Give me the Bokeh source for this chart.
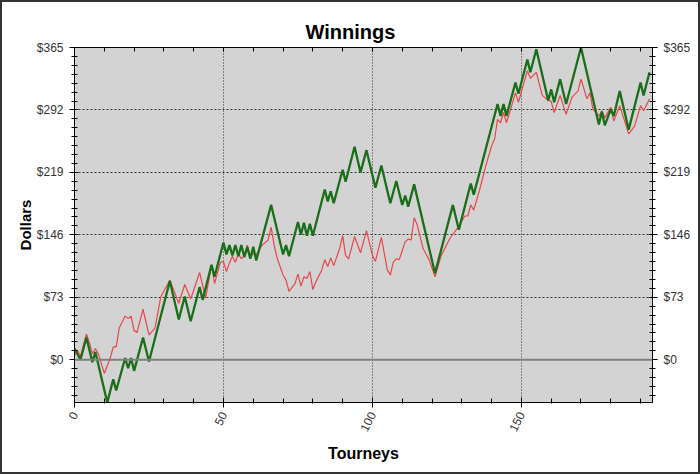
from bokeh.plotting import figure
from bokeh.models import (LinearAxis, FixedTicker, PrintfTickFormatter, Span,
                          Range1d, Grid, CustomJSTickFormatter)
from bokeh.embed import file_html
from bokeh.resources import INLINE

# ---- data (tourney index, cumulative dollars) ----
green_x = [0, 2, 4, 6, 7, 11, 13, 14, 17, 18, 19, 20, 23, 25, 32, 35, 37, 39, 42, 43,
           46, 47, 50, 51, 52, 53, 54, 55, 56, 57, 58, 59, 60, 61, 66, 70, 71, 72, 75, 76,
           77, 78, 79, 80, 84, 85, 86, 87, 90, 91, 94, 96, 98, 101, 103, 106, 108, 110, 111, 112,
           114, 121, 127, 129, 133, 134, 142, 143, 144, 145, 148, 149, 152, 153, 155, 159, 160, 161, 163, 165,
           170, 176, 177, 178, 180, 181, 183, 186, 190, 191, 193]
green_y = [13, 0, 26, -3, 9, -50, -23, -36, 2, -10, 2, -13, 26, -2, 92, 47, 74, 45, 85, 70,
           111, 97, 137, 123, 134, 122, 134, 121, 134, 120, 132, 118, 132, 116, 181, 123, 134, 121, 161, 146,
           160, 145, 159, 145, 199, 185, 197, 183, 222, 208, 249, 219, 245, 201, 227, 183, 209, 181, 192, 179,
           205, 101, 181, 152, 206, 193, 299, 285, 299, 285, 324, 311, 351, 336, 363, 303, 316, 301, 328, 299,
           365, 275, 290, 274, 293, 285, 314, 269, 324, 309, 336]

red_x = [0, 1, 2, 4, 5, 6, 7, 8, 10, 12, 13, 14, 15, 17, 18, 19, 20, 21, 23, 25,
         27, 29, 32, 35, 37, 39, 42, 44, 46, 47, 49, 50, 51, 52, 53, 54, 55, 56, 57, 58,
         59, 60, 61, 63, 65, 66, 67, 68, 70, 71, 72, 74, 75, 76, 77, 78, 79, 80, 81, 83,
         84, 85, 86, 87, 89, 90, 91, 92, 94, 96, 98, 100, 101, 103, 105, 106, 107, 108, 109, 111,
         112, 113, 114, 115, 117, 119, 121, 123, 126, 129, 131, 132, 133, 134, 136, 138, 140, 141, 142, 143,
         144, 145, 148, 149, 152, 153, 155, 157, 159, 160, 161, 163, 165, 167, 169, 170, 172, 173, 174, 176,
         177, 178, 180, 181, 183, 186, 188, 190, 191, 193]
red_y = [5, 11, 4, 30, 20, 7, 13, 7, -16, 2, 15, 15, 37, 51, 48, 51, 34, 32, 59, 29,
         37, 74, 93, 66, 88, 71, 102, 72, 111, 89, 114, 115, 103, 113, 121, 114, 124, 118, 122, 134,
         119, 124, 123, 134, 140, 155, 134, 119, 99, 93, 80, 89, 100, 86, 97, 95, 103, 82, 91, 105,
         117, 109, 119, 110, 130, 145, 122, 118, 144, 125, 151, 122, 115, 143, 105, 99, 114, 118, 117, 138,
         141, 140, 166, 158, 130, 117, 97, 121, 142, 156, 168, 168, 181, 175, 199, 226, 250, 258, 281, 277,
         289, 277, 312, 301, 338, 329, 336, 309, 303, 302, 289, 309, 287, 307, 314, 328, 305, 312, 293, 285,
         291, 283, 295, 279, 297, 264, 273, 297, 291, 305]

y_ticks = [0, 73, 146, 219, 292, 365]
x_ticks = [0, 50, 100, 150]
x_minor = list(range(0, 195, 10))
y_minor = [i * 73 / 7 for i in range(-4, 36)]

FONT = "Liberation Sans"

p = figure(frame_width=578, frame_height=355, output_backend="svg", toolbar_location=None,
           x_range=Range1d(0, 194), y_range=Range1d(-50, 365),
           x_axis_location=None, y_axis_location=None,
           min_border_left=72, min_border_right=46, min_border_top=45, min_border_bottom=70,
           background_fill_color="#d3d3d3", border_fill_color="white")
for g in p.grid:
    g.visible = False
p.outline_line_color = "#888888"
p.styles = {"border": "2px solid #333333"}

p.title.text = "Winnings"
p.title.text_font = FONT
p.title.text_font_size = "20px"
p.title.text_font_style = "bold"
p.title.align = "left"
p.title.offset = 231
p.title.text_color = "black"

def style_axis(ax):
    ax.axis_line_color = "black"
    ax.major_tick_line_color = "black"
    ax.minor_tick_line_color = "black"
    ax.major_label_text_font = FONT
    ax.major_label_text_font_size = "12px"
    ax.major_label_text_color = "#333333"
    ax.axis_label_text_font = FONT
    ax.axis_label_text_font_style = "bold"
    ax.axis_label_text_font_size = "16px"
    ax.axis_label_text_color = "black"

yt = FixedTicker(ticks=y_ticks, minor_ticks=y_minor)
yfmt = PrintfTickFormatter(format="$%d")
left = LinearAxis(ticker=yt, formatter=yfmt, axis_label="Dollars")
right = LinearAxis(ticker=FixedTicker(ticks=y_ticks, minor_ticks=y_minor), formatter=PrintfTickFormatter(format="$%d"))
for ax in (left, right):
    style_axis(ax)
    ax.major_tick_in = 4
    ax.major_tick_out = 5
    ax.minor_tick_in = 3
    ax.minor_tick_out = 3
    ax.major_label_standoff = 6
left.axis_label_standoff = 0
left.axis_label_text_font_size = "15px"

xt = FixedTicker(ticks=x_ticks, minor_ticks=x_minor)
bottom = LinearAxis(ticker=xt, axis_label="Tourneys")
style_axis(bottom)
bottom.major_tick_in = 5
bottom.major_tick_out = 5
bottom.minor_tick_in = 4
bottom.minor_tick_out = 1
bottom.major_label_orientation = 1.1
bottom.axis_label_standoff = 8

top = LinearAxis(ticker=FixedTicker(ticks=x_ticks, minor_ticks=x_minor),
                 formatter=CustomJSTickFormatter(code="return ''"))
style_axis(top)
top.major_tick_in = 4
top.major_tick_out = 0
top.minor_tick_in = 4
top.minor_tick_out = 0
top.major_label_text_font_size = "1px"
top.major_label_standoff = 0

p.add_layout(left, "left")
p.add_layout(right, "right")
p.add_layout(bottom, "below")
p.add_layout(top, "above")

p.add_layout(Grid(dimension=0, ticker=FixedTicker(ticks=[50, 100, 150]),
                  grid_line_color="#333333", grid_line_dash="1 2", grid_line_width=1))
p.add_layout(Grid(dimension=1, ticker=FixedTicker(ticks=[73, 146, 219, 292]),
                  grid_line_color="#333333", grid_line_dash="2 2", grid_line_width=1))
p.add_layout(Span(location=0, dimension="width", line_color="#7f7f7f", line_width=2))

p.line(red_x, red_y, line_color="#e8474a", line_width=1.2)
p.line(green_x, green_y, line_color="#1a6e1a", line_width=2.3)

open("out.html", "w").write(file_html(p, INLINE))
